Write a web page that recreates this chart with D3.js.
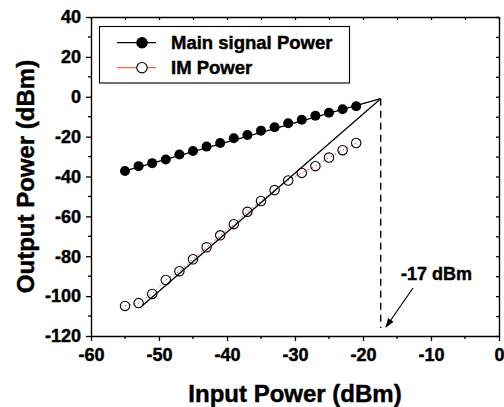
<!DOCTYPE html>
<html><head><meta charset="utf-8">
<script src="https://cdn.jsdelivr.net/npm/d3@7"></script>
<style>body{margin:0;background:#fff}svg{display:block}svg text{font-family:"Liberation Sans",Arial,sans-serif !important;font-weight:700 !important;stroke:#000;stroke-width:0.45px}</style>
</head><body>
<script>
const inputPower = [-55,-53,-51,-49,-47,-45,-43,-41,-39,-37,-35,-33,-31,-29,-27,-25,-23,-21];
const mainPower = [-37.2,-34.8,-33.3,-31.5,-29,-27.2,-25,-23.2,-20.8,-19.2,-17,-15.3,-13.3,-11.5,-9.5,-8,-6.3,-4.8];
const imPower = [-104.9,-103.5,-98.9,-91.9,-87.5,-81.5,-75.5,-69.5,-63.9,-57.7,-52.3,-46.8,-42,-38.2,-34.8,-30.5,-26.8,-23.2];
const mainFit = [[-55,-37.2],[-17.4,-1]];
const imFit = [[-52.5,-105],[-17.4,-1]];
const interceptX = -17.4;
const xTicks = [-60,-50,-40,-30,-20,-10,0];
const yTicks = [40,20,0,-20,-40,-60,-80,-100,-120];

const W=504,H=407;
const m={l:91,t:17,r:5,b:71};
const svg=d3.select("body").append("svg").attr("width",W).attr("height",H);
const x=d3.scaleLinear().domain([-60,0]).range([m.l,W-m.r]);
const y=d3.scaleLinear().domain([-120,40]).range([H-m.b,m.t]);
const g=svg.append("g");
const fmt=d=>String(d);

const minorX=d3.range(-55,0,10), minorY=d3.range(-110,40,20);
function styleAxis(sel){sel.attr("font-family",null).attr("font-size",null);sel.selectAll("path").attr("stroke","#000").attr("stroke-width",1.4);sel.selectAll("line").attr("stroke","#000").attr("stroke-width",1.3);sel.selectAll("text").attr("font-size",18).attr("font-weight","bold").attr("fill","#000");}
const bx=g.append("g").attr("transform",`translate(0,${y(-120)})`).call(d3.axisBottom(x).tickValues(xTicks).tickSize(5).tickSizeOuter(0).tickPadding(7).tickFormat(fmt));
styleAxis(bx);
bx.append("g").selectAll("line").data(minorX).join("line").attr("x1",d=>x(d)).attr("x2",d=>x(d)).attr("y1",0).attr("y2",3).attr("stroke","#000").attr("stroke-width",1.3);
const ly=g.append("g").attr("transform",`translate(${x(-60)},0)`).call(d3.axisLeft(y).tickValues(yTicks).tickSize(5).tickSizeOuter(0).tickPadding(5).tickFormat(fmt));
styleAxis(ly);
ly.append("g").selectAll("line").data(minorY).join("line").attr("y1",d=>y(d)).attr("y2",d=>y(d)).attr("x1",0).attr("x2",-3).attr("stroke","#000").attr("stroke-width",1.3);
const tx=g.append("g").attr("transform",`translate(0,${y(40)})`).call(d3.axisTop(x).tickValues(d3.range(-60,1,5)).tickSize(-3).tickSizeOuter(0).tickFormat(""));
styleAxis(tx);
const ry=g.append("g").attr("transform",`translate(${x(0)},0)`).call(d3.axisRight(y).tickValues(d3.range(-120,41,10)).tickSize(-3).tickSizeOuter(0).tickFormat(""));
styleAxis(ry);

svg.append("text").attr("x",(x(-60)+x(0))/2).attr("y",402).attr("text-anchor","middle").attr("font-size",24).attr("font-weight","bold").text("Input Power (dBm)");
svg.append("text").attr("transform",`translate(34,${(y(40)+y(-120))/2}) rotate(-90)`).attr("text-anchor","middle").attr("font-size",24).attr("font-weight","bold").text("Output Power (dBm)");

const line=d3.line().x(d=>x(d[0])).y(d=>y(d[1]));
g.append("line").attr("x1",x(interceptX)).attr("x2",x(interceptX)).attr("y1",y(-1)).attr("y2",y(-116)).attr("stroke","#000").attr("stroke-width",1.4).attr("stroke-dasharray","7,5");
g.append("path").attr("d",line(inputPower.map((v,i)=>[v,imPower[i]]))).attr("fill","none").attr("stroke","#e33").attr("stroke-width",1).attr("stroke-dasharray","1.5,3");
g.append("path").attr("d",line(mainFit)).attr("fill","none").attr("stroke","#000").attr("stroke-width",1.3);
g.append("path").attr("d",line(imFit)).attr("fill","none").attr("stroke","#000").attr("stroke-width",1.3);
g.append("g").selectAll("circle").data(inputPower).join("circle").attr("cx",d=>x(d)).attr("cy",(d,i)=>y(mainPower[i])).attr("r",5).attr("fill","#000");
g.append("g").selectAll("circle").data(inputPower).join("circle").attr("cx",d=>x(d)).attr("cy",(d,i)=>y(imPower[i])).attr("r",4.7).attr("fill","none").attr("stroke","#000").attr("stroke-width",1.1);

svg.append("text").attr("x",401).attr("y",280).attr("font-size",18).attr("font-weight","bold").text("-17 dBm");
svg.append("defs").append("marker").attr("id","ah").attr("viewBox","0 0 10 10").attr("refX",9).attr("refY",5).attr("markerWidth",8).attr("markerHeight",8).attr("orient","auto").append("path").attr("d","M0,1.5L10,5L0,8.5Z").attr("fill","#000");
svg.append("line").attr("x1",413).attr("y1",288).attr("x2",386).attr("y2",327).attr("stroke","#000").attr("stroke-width",1.2).attr("marker-end","url(#ah)");

const lg=svg.append("g");
lg.append("rect").attr("x",99.5).attr("y",26.5).attr("width",250).attr("height",56.5).attr("fill","#fff").attr("stroke","#000").attr("stroke-width",1.1);
const rows=[{t:"Main signal Power",c:"#000",f:"#000",yy:42.7},{t:"IM Power",c:"#f55",f:"#fff",yy:67.7}];
rows.forEach(r=>{
  lg.append("line").attr("x1",117).attr("x2",156).attr("y1",r.yy).attr("y2",r.yy).attr("stroke",r.c).attr("stroke-width",1.3);
  lg.append("circle").attr("cx",142).attr("cy",r.yy).attr("r",5.2).attr("fill",r.f).attr("stroke","#000").attr("stroke-width",1.1);
  lg.append("text").attr("x",171).attr("y",r.yy+6.5).attr("font-size",18.5).attr("font-weight","bold").text(r.t);
});
</script>
</body></html>
